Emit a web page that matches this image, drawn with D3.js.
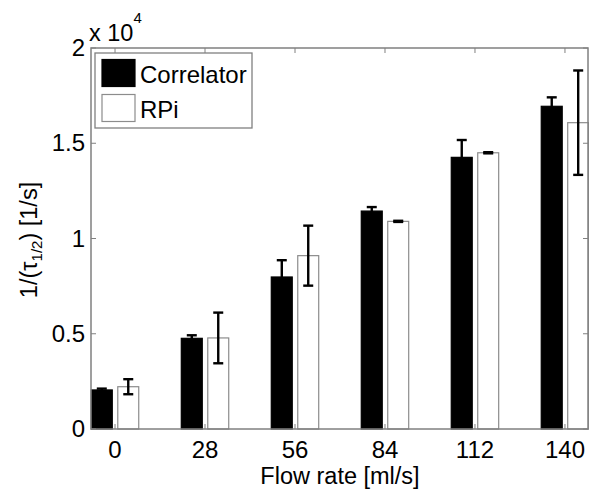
<!DOCTYPE html>
<html>
<head>
<meta charset="utf-8">
<script src="https://cdn.jsdelivr.net/npm/d3@7"></script>
<style>
  body { margin: 0; background: #fff; }
  svg { display: block; }
  text { font-family: "Liberation Sans", Arial, Helvetica, sans-serif; fill: #000; }
</style>
</head>
<body>
<div id="chart"></div>
<script>
// ---- data ----
const categories = ["0", "28", "56", "84", "112", "140"];
const correlatorValues = [2050, 4760, 7980, 11440, 14260, 16940];
const correlatorErrors = [70, 160, 880, 210, 910, 470];
const rpiValues = [2220, 4780, 9100, 10900, 14500, 16080];
const rpiErrors = [395, 1330, 1575, 30, 30, 2740];
const yTickValues = [0, 5000, 10000, 15000, 20000];
const yTickLabels = ["0", "0.5", "1", "1.5", "2"];
const seriesNames = ["Correlator", "RPi"];

// ---- layout ----
const W = 589, H = 490;
const mLeft = 91, mRight = 588, mTop = 48, mBottom = 429;
const axisColor = "#808080";

const svg = d3.select("#chart").append("svg").attr("width", W).attr("height", H);
svg.append("rect").attr("width", W).attr("height", H).attr("fill", "#fff");

const x = d3.scaleLinear().domain([-0.267, 5.256]).range([mLeft, mRight]);
const y = d3.scaleLinear().domain([0, 20000]).range([mBottom, mTop]);

const barW = 0.233, off = 0.147;
const idx = d3.range(categories.length);

const series = [
  { name: seriesNames[0], vals: correlatorValues, errs: correlatorErrors, dx: -off, fill: "#000", stroke: "#000" },
  { name: seriesNames[1], vals: rpiValues, errs: rpiErrors, dx: off, fill: "#fff", stroke: "#8c8c8c" }
];

// bars
series.forEach(s => {
  svg.append("g").selectAll("rect").data(idx).join("rect")
    .attr("x", i => x(i + s.dx - barW / 2))
    .attr("width", x(barW) - x(0))
    .attr("y", i => y(s.vals[i]))
    .attr("height", i => y(0) - y(s.vals[i]))
    .attr("fill", s.fill)
    .attr("stroke", s.stroke)
    .attr("stroke-width", 1.2);
});

// axes box
const g = svg.append("g");
g.append("rect").attr("x", mLeft).attr("y", mTop).attr("width", mRight - mLeft).attr("height", mBottom - mTop)
  .attr("fill", "none").attr("stroke", axisColor).attr("stroke-width", 1.5);

// ticks (inward) on all four sides
const tl = 5;
idx.forEach(i => {
  g.append("line").attr("x1", x(i)).attr("x2", x(i)).attr("y1", mBottom).attr("y2", mBottom - tl).attr("stroke", axisColor).attr("stroke-width", 1);
  g.append("line").attr("x1", x(i)).attr("x2", x(i)).attr("y1", mTop).attr("y2", mTop + tl).attr("stroke", axisColor).attr("stroke-width", 1);
});
yTickValues.forEach(v => {
  g.append("line").attr("x1", mLeft).attr("x2", mLeft + tl).attr("y1", y(v)).attr("y2", y(v)).attr("stroke", axisColor).attr("stroke-width", 1);
  g.append("line").attr("x1", mRight).attr("x2", mRight - tl).attr("y1", y(v)).attr("y2", y(v)).attr("stroke", axisColor).attr("stroke-width", 1);
});

// error bars
series.forEach(s => {
  const eg = svg.append("g").attr("stroke", "#000").attr("stroke-width", 2.4);
  idx.forEach(i => {
    const cx = x(i + s.dx);
    const y1 = y(s.vals[i] + s.errs[i]), y2 = y(s.vals[i] - s.errs[i]);
    eg.append("line").attr("x1", cx).attr("x2", cx).attr("y1", y1).attr("y2", y2);
    eg.append("line").attr("x1", cx - 5).attr("x2", cx + 5).attr("y1", y1).attr("y2", y1);
    eg.append("line").attr("x1", cx - 5).attr("x2", cx + 5).attr("y1", y2).attr("y2", y2);
  });
});

// tick labels
svg.append("g").selectAll("text").data(idx).join("text")
  .attr("x", i => x(i)).attr("y", 458)
  .attr("text-anchor", "middle").attr("font-size", 24)
  .text(i => categories[i]);
svg.append("g").selectAll("text").data(yTickValues).join("text")
  .attr("x", 85).attr("y", v => y(v) + 8)
  .attr("text-anchor", "end").attr("font-size", 24)
  .text((v, i) => yTickLabels[i]);

// exponent
const ex = svg.append("text").attr("x", 89).attr("y", 41).attr("font-size", 23.5);
ex.append("tspan").text("x 10");
ex.append("tspan").attr("font-size", 15).attr("dy", -18).text("4");

// axis labels
svg.append("text").attr("x", 340).attr("y", 484).attr("text-anchor", "middle").attr("font-size", 23.5)
  .text("Flow rate [ml/s]");
const yl = svg.append("text").attr("transform", "translate(37,240) rotate(-90)")
  .attr("text-anchor", "middle").attr("font-size", 23.5);
yl.append("tspan").text("1/(τ");
yl.append("tspan").attr("font-size", 15).attr("dy", 5).text("1/2");
yl.append("tspan").attr("dy", -5).text(") [1/s]");

// legend
const lg = svg.append("g");
lg.append("rect").attr("x", 95).attr("y", 53).attr("width", 157).attr("height", 75)
  .attr("fill", "#fff").attr("stroke", axisColor).attr("stroke-width", 1.3);
series.forEach((s, k) => {
  const yy = 59.5 + k * 35;
  lg.append("rect").attr("x", 102).attr("y", yy).attr("width", 33).attr("height", 27)
    .attr("fill", s.fill).attr("stroke", s.stroke).attr("stroke-width", 1.2);
  lg.append("text").attr("x", 140).attr("y", yy + 23).attr("font-size", 24).text(s.name);
});
</script>
</body>
</html>
